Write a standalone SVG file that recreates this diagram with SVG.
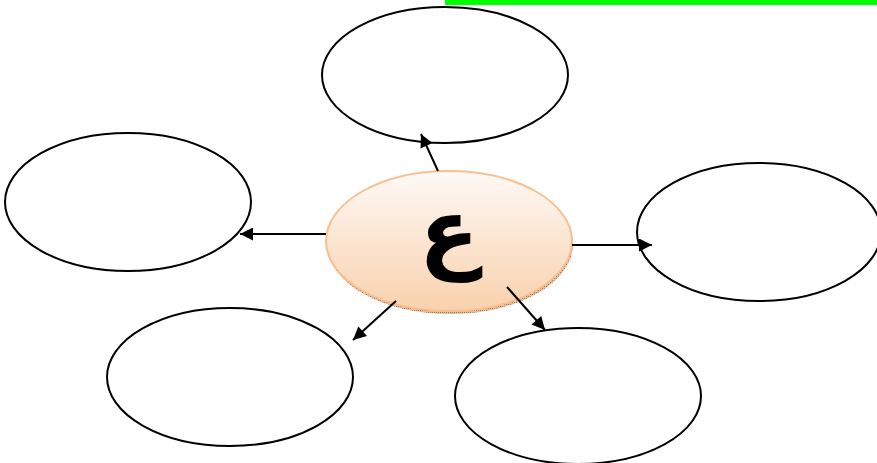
<svg xmlns="http://www.w3.org/2000/svg" width="877" height="463" viewBox="0 0 877 463">
<style>
.n{fill:#fff;stroke:#000;stroke-width:2}
.c line{stroke:#000;stroke-width:2;marker-end:url(#ah)}
</style>
<defs>
<marker id="ah" viewBox="0 0 10 10" refX="10" refY="5" markerWidth="16" markerHeight="13" markerUnits="userSpaceOnUse" orient="auto">
<path d="M0,0L10,5L0,10z" fill="#000"/>
</marker>
<linearGradient id="g" x1="0" y1="0" x2="0" y2="1">
<stop offset="0" stop-color="#fef9f6"/>
<stop offset="1" stop-color="#f9d1ad"/>
</linearGradient>
<pattern id="sh" width="2" height="2" patternUnits="userSpaceOnUse">
<rect width="2" height="2" fill="#e8b998"/>
<rect width="1" height="1" fill="#a07a5c"/>
</pattern>
</defs>
<rect x="445" y="0" width="432" height="5" fill="#00ff00"/>
<g id="top"><ellipse class="n" cx="445" cy="75" rx="123" ry="68"/></g>
<g id="left"><ellipse class="n" cx="128" cy="202" rx="123" ry="69"/></g>
<g id="right"><ellipse class="n" cx="759" cy="232" rx="122" ry="69"/></g>
<g id="bottomleft"><ellipse class="n" cx="230" cy="377" rx="123" ry="69"/></g>
<g id="bottomright"><ellipse class="n" cx="578" cy="396" rx="123" ry="68"/></g>
<g id="center">
<ellipse cx="450" cy="244" rx="123" ry="70" fill="url(#sh)"/>
<ellipse cx="449" cy="241" rx="123" ry="70" fill="url(#g)" stroke="#f8c08f" stroke-width="2"/>
<text x="449" y="262" font-family="DejaVu Sans, sans-serif" font-weight="bold" font-size="88" text-anchor="middle" fill="#000">ع</text>
</g>
<g class="c" id="connectors">
<line x1="438" y1="171" x2="421" y2="134"/>
<line x1="326" y1="234" x2="240" y2="234"/>
<line x1="572" y1="245" x2="652" y2="245"/>
<line x1="396" y1="301" x2="353" y2="340"/>
<line x1="507" y1="287" x2="545" y2="330"/>
</g>
</svg>
